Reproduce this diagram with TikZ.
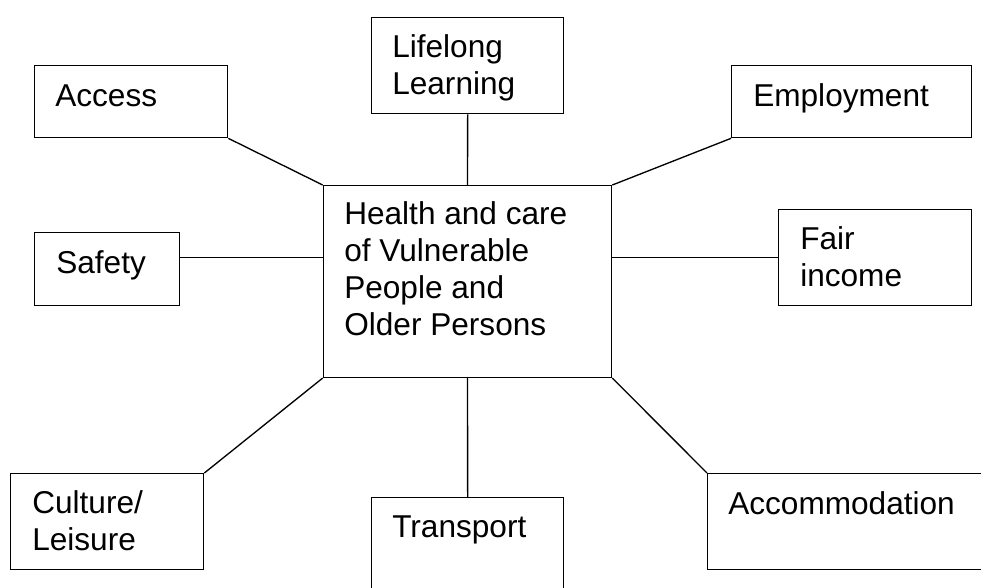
\documentclass[tikz,border=0pt]{standalone}
\usepackage{fontspec}
\setmainfont{Liberation Sans}
\usetikzlibrary{positioning}
\tikzset{%
  topicbox/.style={rectangle,draw=black,line width=1pt,inner sep=0pt,anchor=north west}
}
\tikzset{%
  topictext/.style={anchor=base west,inner sep=0pt,align=left,font=\fontsize{23.7}{27.75}\selectfont}
}
\tikzset{%
  spoke/.style={draw=black,line width=1pt}
}

\begin{document}
\begin{tikzpicture}[x=0.75pt,y=-0.75pt]
            \useasboundingbox (0,0) rectangle (981,587);
            \clip (0,0) rectangle (981,587);

            % the base of a multi-line text is its last line
            \node[topicbox,minimum width=288.3*0.75pt,minimum height=191.7*0.75pt](centre) at (322.7,185){};
            \node[topictext](centretext) at ([shift={(21.3,150.5)}]centre.north west){Health and care\\of Vulnerable\\People and\\Older Persons};

            \node[topicbox,minimum width=193*0.75pt,minimum height=72*0.75pt](access) at (34,65){};
            \node[topictext](accesstext) at ([shift={(21,41)}]access.north west){Access};

            \node[topicbox,minimum width=192*0.75pt,minimum height=96*0.75pt](lifelong) at (371,17){};
            \node[topictext](lifelongtext) at ([shift={(21,77)}]lifelong.north west){Lifelong\\Learning};

            \node[topicbox,minimum width=240*0.75pt,minimum height=72*0.75pt](employ) at (731,65){};
            \node[topictext](employtext) at ([shift={(22,41)}]employ.north west){Employment};

            \node[topicbox,minimum width=145*0.75pt,minimum height=73*0.75pt](safety) at (34,232){};
            \node[topictext](safetytext) at ([shift={(22,41)}]safety.north west){Safety};

            \node[topicbox,minimum width=193*0.75pt,minimum height=96*0.75pt](income) at (778,209){};
            \node[topictext](incometext) at ([shift={(22,77)}]income.north west){Fair\\income};

            \node[topicbox,minimum width=193*0.75pt,minimum height=96*0.75pt](culture) at (10,473){};
            \node[topictext](culturetext) at ([shift={(22,77)}]culture.north west){Culture/\\Leisure};

            \node[topicbox,minimum width=192*0.75pt,minimum height=110*0.75pt](transport) at (371,497){};
            \node[topictext](transporttext) at ([shift={(21,40)}]transport.north west){Transport};

            \node[topicbox,minimum width=290*0.75pt,minimum height=96*0.75pt](accom) at (707,473){};
            \node[topictext](accomtext) at ([shift={(21,41)}]accom.north west){Accommodation};

            \draw[spoke] (access.south east) -- (centre.north west);
            \draw[spoke] (lifelong.south) -- (centre.north);
            \draw[spoke] (employ.south west) -- (centre.north east);
            \draw[spoke] (safety.east |- income.west) -- (centre.west |- income.west);
            \draw[spoke] (centre.east |- income.west) -- (income.west);
            \draw[spoke] (culture.north east) -- (centre.south west);
            \draw[spoke] (transport.north) -- (centre.south);
            \draw[spoke] (accom.north west) -- (centre.south east);
        \end{tikzpicture}
\end{document}
